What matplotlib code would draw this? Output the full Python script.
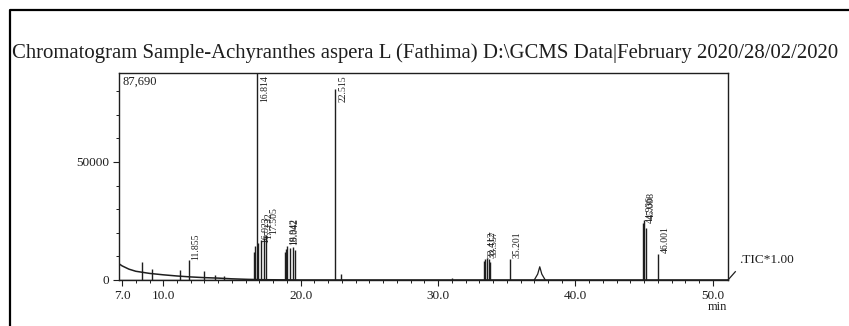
import matplotlib
matplotlib.use("Agg")
import matplotlib.pyplot as plt
from matplotlib.lines import Line2D

plt.rcParams['font.family'] = ['Liberation Serif', 'DejaVu Serif']

title = "Chromatogram Sample-Achyranthes aspera L (Fathima) D:\\GCMS Data|February 2020/28/02/2020"

# drifting baseline at the start of the run (min, counts)
base_t = [6.8, 7.0, 7.5, 8.0, 9.0, 10.0, 11.0, 12.0, 13.0, 14.0, 15.0, 16.0, 17.0, 20.0, 51.2]
base_y = [6800, 6000, 4600, 3700, 2800, 2200, 1700, 1300, 1000, 800, 500, 300, 150, 0, 0]

# sharp peaks: retention time (min) and apex height (counts)
peak_rt = [8.45, 9.15, 11.25, 11.855, 12.95, 13.8, 14.4,
           16.62, 16.70, 16.814, 16.923, 17.132, 17.30, 17.505,
           18.85, 18.95, 19.042, 19.25, 19.45, 19.60,
           22.515, 22.90, 31.0,
           33.35, 33.45, 33.557, 33.70, 33.80, 35.201,
           44.94, 45.008, 45.10, 46.001]
peak_h = [7600, 4500, 4200, 8300, 4000, 2000, 1800,
          12000, 14500, 87690, 15500, 17000, 18000, 19000,
          12000, 13000, 14500, 13500, 14000, 12500,
          81000, 2600, 800,
          8000, 9000, 9500, 8800, 7500, 9000,
          24000, 25500, 22000, 11000]

# broad peak near 37.4 min
broad_t = [37.0, 37.25, 37.4, 37.55, 37.8]
broad_y = [0, 2500, 5600, 2500, 0]

# labelled peaks
label_txt = ["11.855", "16.923", "17.132", "17.505", "18.942", "19.042",
             "16.814", "22.515", "33.412", "33.557", "35.201",
             "44.936", "45.008", "46.001"]
label_rt = [11.855, 16.923, 17.132, 17.505, 18.942, 19.042,
            16.814, 22.515, 33.412, 33.557, 35.201,
            44.936, 45.008, 46.001]
label_h = [8300, 15500, 17000, 19000, 14500, 14500,
           87690, 81000, 9000, 9500, 9000,
           24000, 25500, 11000]

y_max = 87690
x_ticks = [7, 10, 20, 30, 40, 50]
y_ticks = [0, 50000]

col = '#1e1e1e'
fig = plt.figure(figsize=(8.49, 3.26), dpi=100)
ax = fig.add_axes([119 / 849, 46 / 326, 609 / 849, 207 / 326])

ax.plot(base_t, base_y, color=col, lw=1.1)
ax.vlines(peak_rt, 0, peak_h, color=col, lw=1.0)
ax.plot(broad_t, broad_y, color=col, lw=0.9)
ax.axhline(0, color=col, lw=1.0)

for txt, rt, h in zip(label_txt, label_rt, label_h):
    if h > 70000:
        ax.text(rt + 0.25, y_max * 0.99, txt, rotation=90, ha='left', va='top',
                fontsize=7, color=col)
    else:
        ax.text(rt + 0.2, h + 300, txt, rotation=90, ha='left', va='bottom',
                fontsize=7, color=col)

ax.set_xlim(6.78, 51.1)
ax.set_ylim(0, y_max)
ax.set_xticks(x_ticks)
ax.set_xticklabels(["%.1f" % v for v in x_ticks])
ax.set_xticks(range(7, 51), minor=True)
ax.set_yticks(y_ticks)
ax.set_yticklabels([str(v) for v in y_ticks])
ax.set_yticks(range(0, 90000, 10000), minor=True)
ax.tick_params(which='major', direction='out', length=4, width=0.8, color=col,
               labelsize=9.5, labelcolor=col, pad=3)
ax.tick_params(which='minor', direction='out', length=2.5, width=0.7, color=col)
for s in ax.spines.values():
    s.set_color(col)
    s.set_linewidth(1.0)

ax.text(0.005, 0.985, "87,690", transform=ax.transAxes, ha='left', va='top',
        fontsize=9, color=col)
ax.plot([1, 1.012], [0, 0.04], transform=ax.transAxes, clip_on=False,
        color=col, lw=0.9)
fig.text(739 / 849, 1 - 260 / 326, ".TIC*1.00", ha='left', va='center',
         fontsize=9.5, color=col)
fig.text(717 / 849, 1 - 307 / 326, "min", ha='center', va='center',
         fontsize=9, color=col)

# outer frame (left and top edges only)
fig.add_artist(Line2D([10 / 849, 10 / 849, 1.0], [0.0, 1 - 10 / 326, 1 - 10 / 326],
                      transform=fig.transFigure, color='black', lw=1.6))

t = fig.text(12 / 849, 1 - 53 / 326, title, ha='left', va='center',
             fontsize=16, color=col)
fig.canvas.draw()
w = t.get_window_extent().width
t.set_fontsize(16 * 830 / w)

fig.savefig("out.png", dpi=100)
